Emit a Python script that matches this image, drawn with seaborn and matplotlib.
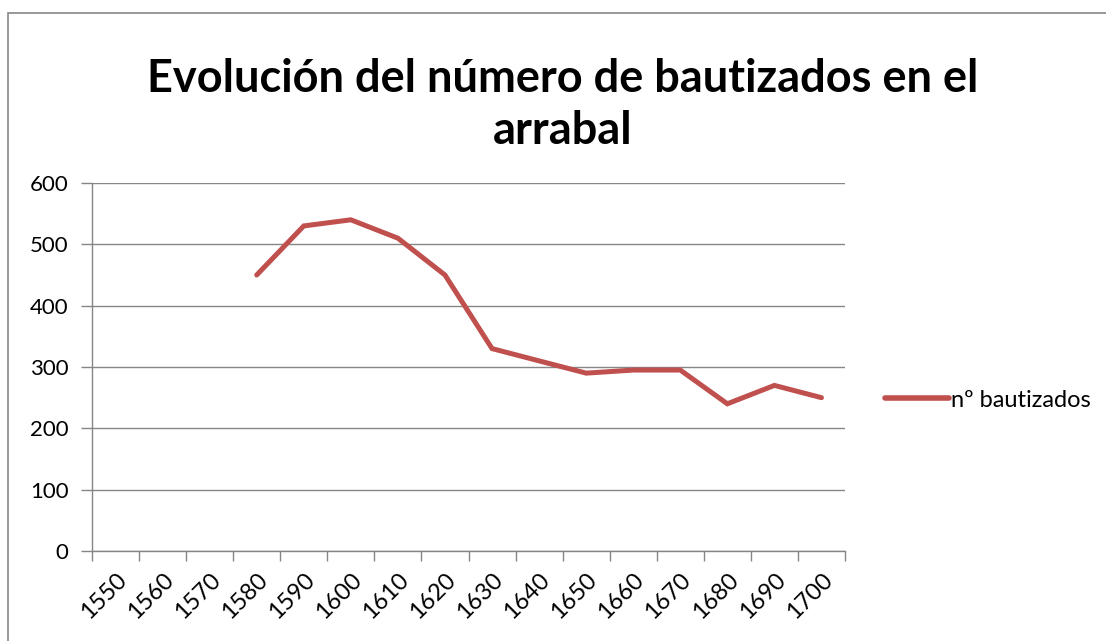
import numpy as np
import pandas as pd
import matplotlib
matplotlib.use("Agg")
import matplotlib.pyplot as plt
import seaborn as sns
from matplotlib.patches import Rectangle

# Chart data
years = [1550, 1560, 1570, 1580, 1590, 1600, 1610, 1620,
         1630, 1640, 1650, 1660, 1670, 1680, 1690, 1700]
bautizados = [np.nan, np.nan, np.nan, 450, 530, 540, 510, 450,
              330, 310, 290, 295, 295, 240, 270, 250]
series_name = "nº bautizados"
title = "Evolución del número de bautizados en el\narrabal"
y_ticks = [0, 100, 200, 300, 400, 500, 600]

df = pd.DataFrame({"pos": np.arange(len(years)), "valor": bautizados,
                   "serie": series_name})

sns.set_style("white")
plt.rcParams["font.family"] = ["Lato", "DejaVu Sans"]
plt.rcParams["text.color"] = "black"
plt.rcParams["xtick.color"] = "black"
plt.rcParams["ytick.color"] = "black"

grey = "#868686"
red = "#C0504D"

fig = plt.figure(figsize=(11.06, 6.41), dpi=100)
ax = fig.add_axes([92 / 1106, 1 - 551 / 641, (845 - 92) / 1106, (551 - 183) / 641])

sns.lineplot(data=df, x="pos", y="valor", hue="serie", palette=[red],
             linewidth=3.6, ax=ax, legend=True)
ax.lines[0].set_solid_capstyle("round")
ax.lines[0].set_solid_joinstyle("miter")

# category axis: labels in the middle, tick marks between categories
ax.set_xlim(-0.5, len(years) - 0.5)
ax.set_xticks(np.arange(len(years)))
ax.set_xticklabels([str(y) for y in years], rotation=45, ha="right", va="top",
                   rotation_mode="anchor", fontsize=17)
ax.set_xticks(np.arange(len(years) + 1) - 0.5, minor=True)
ax.tick_params(axis="x", which="major", bottom=True, length=0, pad=13)
ax.tick_params(axis="x", which="minor", bottom=True, length=7, color=grey,
               width=1, direction="out")

ax.set_ylim(0, 600)
ax.set_yticks(y_ticks)
ax.tick_params(axis="y", left=True, length=8, color=grey, width=1,
               direction="out", labelsize=16, pad=9)
ax.yaxis.grid(True, color=grey, linewidth=1)
ax.set_axisbelow(True)
ax.set_xlabel("")
ax.set_ylabel("")

for s in ["top", "right"]:
    ax.spines[s].set_visible(False)
for s in ["left", "bottom"]:
    ax.spines[s].set_color(grey)
    ax.spines[s].set_linewidth(1)

leg = ax.legend(loc="center left", bbox_to_anchor=(1.025, 0.41), frameon=False,
                fontsize=17, handlelength=2.7, handletextpad=0.1)
for h in leg.legend_handles:
    h.set_linewidth(4)
    h.set_solid_capstyle("round")

fig.text(0.509, 0.836, title, ha="center", va="center", fontsize=32.5,
         fontweight="bold", linespacing=1.3, color="black")

# outer chart border
fig.patches.append(Rectangle((8 / 1106, -0.1), 1.2, 1.1 - 12.5 / 641,
                             transform=fig.transFigure, fill=False,
                             edgecolor=grey, linewidth=1.2))

fig.savefig("out.png", dpi=100)
